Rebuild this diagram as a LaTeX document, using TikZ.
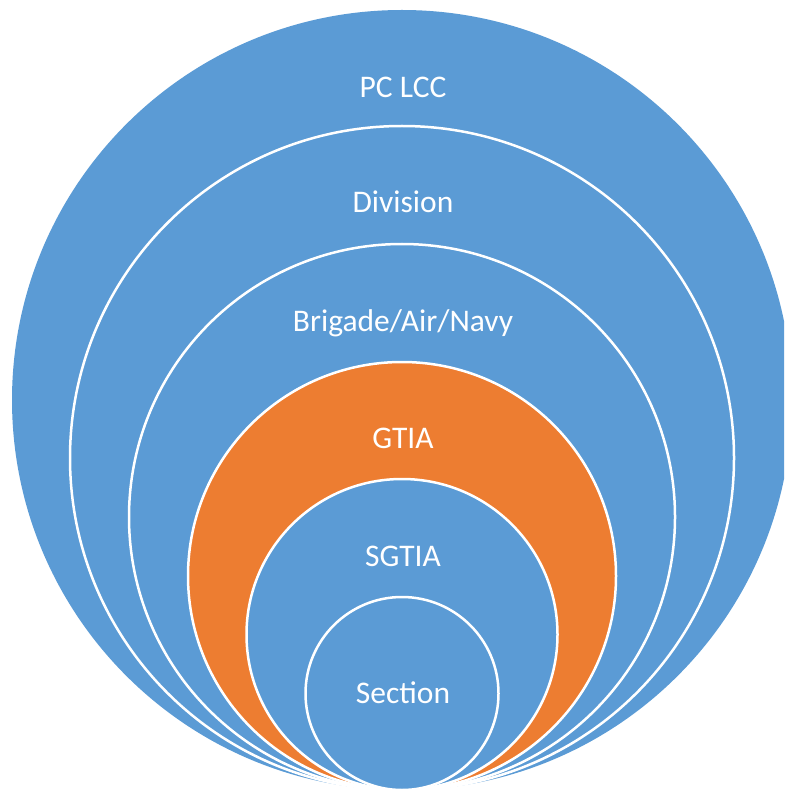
\documentclass[tikz,border=0pt]{standalone}
\usepackage{fontspec}
\setmainfont{Carlito}
\usetikzlibrary{positioning, calc}
\definecolor{ringblue}{HTML}{5B9BD5}
\definecolor{ringorange}{HTML}{ED7D31}

\begin{document}
\begin{tikzpicture}[x=1pt, y=-1pt,
                    ring/.style={fill=ringblue,
                                 draw=white,
                                 line width=2.5pt},
                    ringtext/.style={text=white,
                                     anchor=base,
                                     inner sep=0pt,
                                     font=\fontsize{31.5}{36}\selectfont}]
	\useasboundingbox (0,0) rectangle (784,791);
	\clip (0,0) rectangle (784,791);
	% nested rings, all touching at the bottom
	\fill[ringblue] (402,400) circle [radius=390pt];
	\draw[ring] (402,458) circle [radius=332pt];
	\draw[ring] (402,517) circle [radius=273pt];
	\draw[ring, fill=ringorange] (402,576) circle [radius=214pt];
	\draw[ring] (402,634.5) circle [radius=155.5pt];
	\draw[ring] (402,693.5) circle [radius=96.5pt];

	\node[ringtext] (PCLCC) at (403,98) {PC LCC};
	\node[ringtext] (Division) at (403,213) {Division};
	\node[ringtext] (Brigade) at (403,331) {Brigade/Air/Navy};
	\node[ringtext] (GTIA) at (403,448) {GTIA};
	\node[ringtext] (SGTIA) at (403,566) {SGTIA};
	\node[ringtext] (Section) at (403,703) {Section};
\end{tikzpicture}
\end{document}
